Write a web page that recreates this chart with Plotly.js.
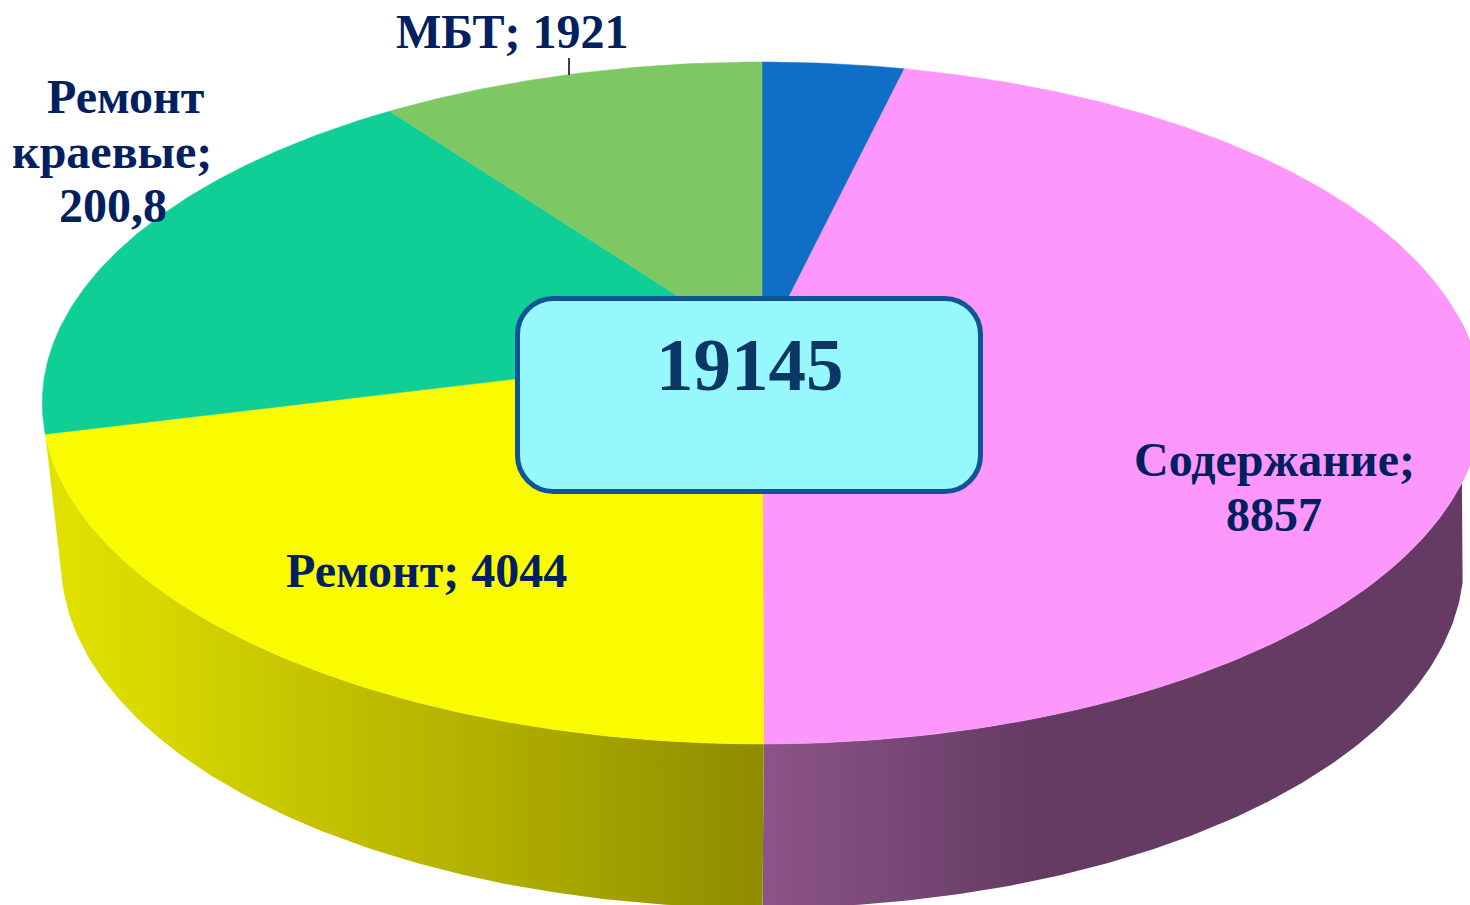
<!DOCTYPE html>
<html>
<head>
<meta charset="utf-8">
<script src="https://cdn.plot.ly/plotly-3.0.1.min.js"></script>
<style>html,body{margin:0;padding:0;background:#fff;overflow:hidden}#chart{width:1470px;height:905px}</style>
</head>
<body>
<div id="chart"></div>
<script>
// Data (clockwise from 12 o'clock)
const categories = ['Прочее', 'Содержание', 'Ремонт', 'Ремонт краевые', 'МБТ'];
const values = [709, 8857, 4044, 3614, 1921];
const sliceColors = ['#0F6FC6', '#FD97FB', '#FAFA00', '#0FCF97', '#7EC864'];
const totalLabel = '19145';

// Label lines, as printed
const labelLines = ['МБТ; 1921', 'Ремонт', 'краевые;', '200,8', 'Содержание;', '8857', 'Ремонт; 4044'];
const labelX = [512, 125, 112, 113, 1274, 1274, 426];
const labelY = [31, 96, 151, 205, 459, 514, 570];

// Tilted-disc projection of the pie, in picture coordinates
const apex = {x: 762, y: 350, top: 62, bottom: 744, k: 711};
const persp = (apex.top + apex.bottom - 2 * apex.y) / (apex.bottom - apex.top);
const slope = apex.top * (1 + persp) - apex.y;
function rim(deg) {
  const t = deg * Math.PI / 180, u = Math.sin(t), v = Math.cos(t), d = 1 + persp * v;
  return [apex.x + apex.k * u / d, (slope * v + apex.y) / d];
}
const base = {x: 762.5, y: 561, rx: 701.5, ry: 347};
function lower(deg) {
  const t = deg * Math.PI / 180;
  return [base.x + base.rx * Math.sin(t), base.y - base.ry * Math.cos(t)];
}
function range(a, b, n) {
  const out = [];
  for (let i = 0; i <= n; i++) out.push(a + (b - a) * i / n);
  return out;
}

const total = values.reduce((s, v) => s + v, 0);
const cum = [0];
values.forEach(v => cum.push(cum[cum.length - 1] + v));
const ang = cum.map(v => v / total * 360);

const traces = [];

// Side walls (only the pink and yellow slices show one)
function wall(topFrom, topTo, lowFrom, lowTo, scale, start, stop, name) {
  const pts = range(topFrom, topTo, 120).map(rim).concat(range(lowFrom, lowTo, 120).map(lower));
  traces.push({
    type: 'scatter', mode: 'lines', name, hoverinfo: 'name',
    x: pts.map(p => p[0]), y: pts.map(p => p[1]),
    fill: 'toself', line: {width: 0, color: 'rgba(0,0,0,0)'},
    fillgradient: {type: 'horizontal', colorscale: scale, start, stop}
  });
}
wall(ang[2], 85, 93.6, 180,
  [[0, '#8C5489'], [0.5, '#784876'], [1, '#653A63']], 763, 1035, categories[1]);
wall(ang[3], ang[2], 180, 266.4,
  [[0, '#E2E200'], [0.146, '#D9D800'], [0.355, '#C6C400'], [0.634, '#B0AE00'], [1, '#8E8C00']], 45, 763, categories[2]);

// Top faces
values.forEach((v, i) => {
  const n = Math.max(8, Math.round(ang[i + 1] - ang[i]) * 2);
  const pts = [[apex.x, apex.y]].concat(range(ang[i], ang[i + 1], n).map(rim));
  pts.push([apex.x, apex.y]);
  traces.push({
    type: 'scatter', mode: 'lines', name: categories[i], hoverinfo: 'name',
    x: pts.map(p => p[0]), y: pts.map(p => p[1]),
    fill: 'toself', fillcolor: sliceColors[i], line: {width: 0.5, color: sliceColors[i]}
  });
});

const ink = '#002060';
const annotations = labelLines.map((t, i) => ({
  text: '<b>' + t + '</b>', x: labelX[i], y: labelY[i], xref: 'x', yref: 'y',
  xanchor: 'center', yanchor: 'middle', showarrow: false,
  font: {family: '"Liberation Serif", serif', size: 48, color: ink}
}));
annotations.push({
  text: '<b>' + totalLabel + '</b>', x: 750, y: 364, xref: 'x', yref: 'y',
  xanchor: 'center', yanchor: 'middle', showarrow: false,
  font: {family: '"Liberation Serif", serif', size: 75, color: '#0A3764'}
});

const bx0 = 517.5, bx1 = 980.5, by0 = 298.5, by1 = 491.5, br = 36, bk = br * 0.45;
const boxPath = `M${bx0 + br},${by0} L${bx1 - br},${by0} C${bx1 - bk},${by0} ${bx1},${by0 + bk} ${bx1},${by0 + br} ` +
  `L${bx1},${by1 - br} C${bx1},${by1 - bk} ${bx1 - bk},${by1} ${bx1 - br},${by1} L${bx0 + br},${by1} ` +
  `C${bx0 + bk},${by1} ${bx0},${by1 - bk} ${bx0},${by1 - br} L${bx0},${by0 + br} C${bx0},${by0 + bk} ${bx0 + bk},${by0} ${bx0 + br},${by0} Z`;

const layout = {
  width: 1470, height: 905, margin: {l: 0, r: 0, t: 0, b: 0},
  paper_bgcolor: '#fff', plot_bgcolor: '#fff', showlegend: false,
  xaxis: {range: [0, 1470], visible: false, fixedrange: true},
  yaxis: {range: [905, 0], visible: false, fixedrange: true},
  shapes: [
    {type: 'line', xref: 'x', yref: 'y', x0: 569, x1: 569, y0: 58, y1: 75, line: {color: '#000', width: 1.5}, layer: 'above'},
    {type: 'path', xref: 'x', yref: 'y', path: boxPath, fillcolor: '#96F7FD', line: {color: '#0F5494', width: 5}, layer: 'above'}
  ],
  annotations
};
Plotly.newPlot('chart', traces, layout, {displayModeBar: false, responsive: false});
</script>
</body>
</html>
